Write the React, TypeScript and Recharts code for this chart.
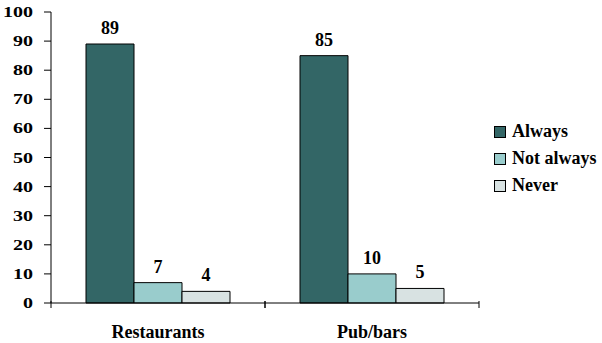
import React from 'react';
import { BarChart, Bar, XAxis, YAxis, LabelList } from 'recharts';

const categories = ['Restaurants', 'Pub/bars'];
const always = [89, 85];
const notAlways = [7, 10];
const never = [4, 5];
const yTicks = [0, 10, 20, 30, 40, 50, 60, 70, 80, 90, 100];

const SERIES = [
    { key: 'always', name: 'Always', color: '#336666' },
    { key: 'notAlways', name: 'Not always', color: '#99CCCC' },
    { key: 'never', name: 'Never', color: '#D8E2E2' },
];

const FONT = 'Liberation Serif';
const HALF_BAND = 107;

const data = categories.map((name, i) => ({
    name,
    always: always[i],
    notAlways: notAlways[i],
    never: never[i],
}));

// y tick digits are drawn wide, like the original
const YTick = ({ x, y, payload }: any) => {
    const s = String(payload.value);
    return (
        <text
            x={x}
            y={y}
            dy={5}
            textAnchor="end"
            style={{ fontFamily: FONT, fontWeight: 700, fontSize: 15 }}
            fill="#000"
            textLength={s.length * 10}
            lengthAdjust="spacingAndGlyphs"
        >
            {s}
        </text>
    );
};

// category label plus the separator ticks at the band edges
const XTick = ({ x, y, payload }: any) => (
    <g>
        <line x1={x - HALF_BAND} y1={y - 10} x2={x - HALF_BAND} y2={y - 3} stroke="#000" />
        <line x1={x + HALF_BAND} y1={y - 10} x2={x + HALF_BAND} y2={y - 3} stroke="#000" />
        <text
            x={x}
            y={y}
            dy={27}
            textAnchor="middle"
            style={{ fontFamily: FONT, fontWeight: 700, fontSize: 18 }}
            fill="#000"
        >
            {payload.value}
        </text>
    </g>
);

const LegendBox = () => (
    <div style={{ position: 'absolute', left: 494, top: 118, fontFamily: FONT, fontWeight: 'bold', fontSize: 18, color: '#000' }}>
        {SERIES.map(s => (
            <div key={s.key} style={{ display: 'flex', alignItems: 'center', height: 27 }}>
                <span
                    style={{
                        width: 10,
                        height: 10,
                        background: s.color,
                        border: '1px solid #000',
                        marginRight: 6,
                        display: 'inline-block',
                    }}
                />
                <span style={{ whiteSpace: 'nowrap' }}>{s.name}</span>
            </div>
        ))}
    </div>
);

export default function App() {
    return (
        <div style={{ position: 'absolute', left: 0, top: 0, width: 602, height: 343, background: '#fff', overflow: 'hidden' }}>
            <BarChart
                width={602}
                height={343}
                data={data}
                margin={{ top: 12, right: 123, bottom: 0, left: 0 }}
                barCategoryGap={35}
                barGap={0}
            >
                <XAxis
                    dataKey="name"
                    axisLine={{ stroke: '#000' }}
                    tickLine={false}
                    tick={<XTick />}
                    height={40}
                    interval={0}
                />
                <YAxis
                    domain={[0, 100]}
                    ticks={yTicks}
                    width={51}
                    axisLine={{ stroke: '#000' }}
                    tickLine={{ stroke: '#000' }}
                    tickSize={7}
                    tickMargin={11}
                    tick={<YTick />}
                    interval={0}
                />
                {SERIES.map(s => (
                    <Bar
                        key={s.key}
                        dataKey={s.key}
                        name={s.name}
                        fill={s.color}
                        stroke="#000"
                        strokeWidth={1}
                        isAnimationActive={false}
                    >
                        <LabelList
                            dataKey={s.key}
                            position="top"
                            offset={10}
                            style={{ fontFamily: FONT, fontWeight: 700, fontSize: 18 }}
                            fill="#000"
                        />
                    </Bar>
                ))}
            </BarChart>
            <LegendBox />
        </div>
    );
}
